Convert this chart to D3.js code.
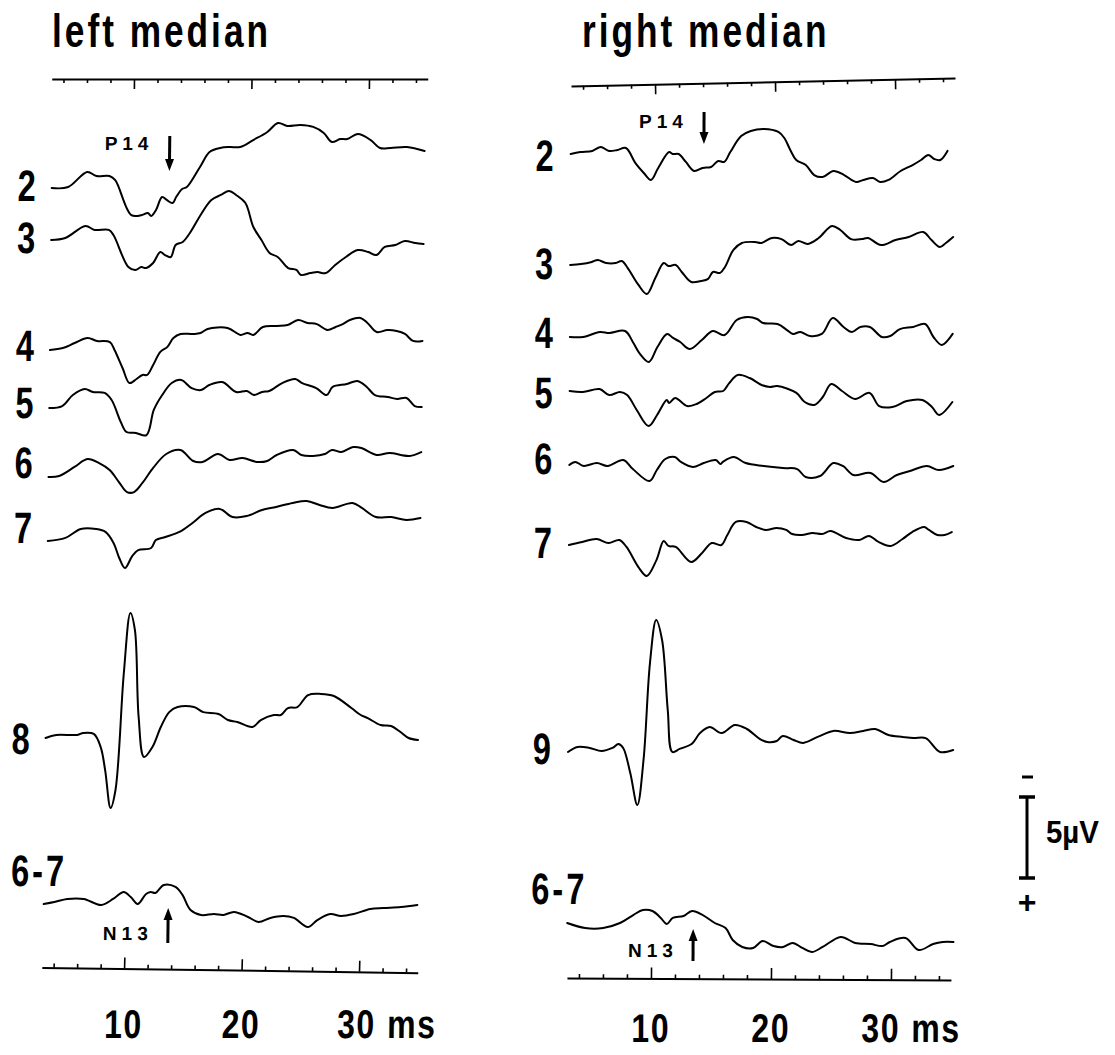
<!DOCTYPE html>
<html lang="en">
<head>
<meta charset="UTF-8">
<title>Median nerve SEP traces</title>
<style>
  body { margin: 0; background: #fff; }
  svg { display: block; }
  .lbl { font-family: "Liberation Sans", Arial, Helvetica, sans-serif; font-weight: bold; fill: #000; }
  .trace { fill: none; stroke: #000; stroke-width: 2; stroke-linejoin: round; stroke-linecap: round; }
</style>
</head>
<body>
<svg id="chart" width="1115" height="1055"></svg>
<script src="https://d3js.org/d3.v7.min.js"></script>
<script>
// time ticks (ms) and labelled ticks
const msTicks = d3.range(4, 35, 2);
const majorTicks = [10, 20, 30];
const tickLabels = ["10", "20", "30"];

// traces: [ms, µV]  (negative = up)
const left2 = [[3.1,0],[4.5,-0.06],[6.1,-0.99],[6.9,-0.74],[8.0,-0.74],[8.5,-0.49],[9.9,1.67],[10.8,1.67],[11.3,1.54],[11.6,1.73],[12.0,1.36],[12.5,0.56],[12.9,0.74],[13.4,0.93],[13.7,0.56],[14.2,0.06],[14.6,-0.06],[15.7,-1.30],[16.5,-2.22],[17.4,-2.47],[18.2,-2.53],[19.1,-2.53],[20.2,-2.96],[21.4,-3.46],[22.3,-4.01],[23.1,-3.83],[24.2,-3.89],[25.3,-3.77],[26.2,-3.40],[26.9,-2.84],[27.6,-3.02],[28.2,-3.02],[29.1,-3.33],[30.2,-2.96],[31.0,-2.47],[31.9,-2.47],[33.3,-2.53],[34.8,-2.28]];
const left3 = [[3.1,0],[4.3,-0.12],[6.0,-0.86],[6.8,-0.62],[8.0,-0.62],[8.4,-0.31],[9.7,1.67],[10.3,1.85],[10.8,1.67],[11.2,1.73],[11.8,1.42],[12.4,0.74],[12.8,0.93],[13.3,1.05],[13.7,0.31],[14.3,0.12],[14.9,-0.43],[15.9,-1.67],[16.7,-2.47],[17.5,-2.78],[18.2,-3.02],[18.8,-2.78],[19.6,-2.28],[20.3,-0.80],[21.0,0],[21.7,0.80],[22.4,1.05],[23.3,1.73],[24.0,1.85],[24.4,2.16],[25.2,2.04],[25.8,1.98],[26.5,2.04],[27.3,1.54],[28.2,1.05],[29.2,0.62],[30.1,0.74],[30.8,0.93],[31.5,0.43],[32.4,0.31],[33.2,0.06],[34.1,0.19],[34.8,0.25]];
const left4 = [[3.1,0],[4.2,-0.12],[5.2,-0.43],[6.3,-0.74],[7.1,-0.56],[8.2,-0.49],[8.6,0],[9.3,1.11],[9.9,2.04],[10.5,1.79],[11.0,1.54],[11.4,1.54],[11.9,0.93],[12.5,0.12],[13.1,-0.19],[13.6,-0.74],[14.2,-0.99],[15.3,-0.99],[15.9,-1.05],[16.5,-1.30],[18.2,-1.36],[19.3,-0.93],[19.9,-1.05],[20.4,-0.93],[21.2,-1.42],[22.4,-1.48],[23.3,-1.54],[24.2,-1.85],[25.0,-1.67],[25.8,-1.60],[26.7,-1.23],[27.4,-1.42],[28.0,-1.60],[28.6,-1.85],[29.5,-1.98],[30.1,-1.67],[30.9,-1.11],[31.8,-1.23],[32.6,-1.17],[33.3,-0.99],[34.0,-0.56],[34.8,-0.56]];
const left5 = [[3.1,0],[4.2,-0.12],[5.1,-0.80],[6.1,-1.17],[6.8,-0.99],[7.8,-0.93],[8.4,-0.49],[9.2,0.86],[9.7,1.48],[10.5,1.54],[11.4,1.67],[12.0,0.12],[12.7,-0.80],[13.5,-1.54],[14.3,-1.73],[15.2,-1.23],[16.0,-1.11],[16.7,-1.42],[17.8,-1.60],[19.0,-0.99],[19.9,-1.05],[20.5,-0.80],[21.2,-0.99],[21.8,-1.05],[22.9,-1.54],[24.0,-1.79],[24.6,-1.54],[25.8,-1.23],[26.7,-0.80],[27.2,-1.30],[28.4,-1.48],[29.3,-1.67],[30.1,-1.30],[30.8,-0.80],[31.9,-0.68],[32.7,-0.56],[33.5,-0.62],[34.2,-0.12],[34.8,-0.06]];
const left6 = [[3.1,0],[4.0,-0.06],[5.3,-0.62],[6.4,-1.11],[7.4,-0.86],[8.3,-0.43],[9.1,0.31],[9.8,0.93],[10.4,0.93],[11.1,0.37],[12.0,-0.56],[13.1,-1.42],[14.3,-1.67],[15.4,-0.99],[16.2,-0.93],[17.5,-1.42],[18.5,-1.05],[19.6,-1.17],[20.8,-0.93],[21.7,-0.99],[22.5,-1.36],[23.9,-1.67],[24.6,-1.36],[25.6,-1.30],[26.6,-1.42],[27.2,-1.67],[28.0,-1.54],[29.0,-1.85],[29.7,-1.79],[31.0,-1.36],[32.1,-1.48],[33.8,-1.30],[34.8,-1.54]];
const left7 = [[3.1,0],[4.6,-0.19],[5.9,-0.74],[7.2,-0.74],[8.0,-0.56],[8.7,0.12],[9.2,1.05],[9.7,1.67],[10.3,0.93],[10.8,0.56],[11.9,0.43],[12.3,-0.06],[13.1,-0.25],[14.3,-0.56],[15.4,-1.11],[16.5,-1.73],[17.7,-1.98],[18.8,-1.48],[20.0,-1.54],[21.3,-1.91],[22.5,-2.10],[23.9,-2.35],[25.1,-2.47],[26.2,-2.22],[27.3,-2.04],[29.0,-2.35],[29.8,-2.04],[31.0,-1.48],[32.3,-1.48],[33.6,-1.30],[34.8,-1.42]];
const left8 = [[3.1,0],[4.0,-0.19],[5.8,-0.19],[6.3,-0.31],[7.2,-0.25],[7.8,0.56],[8.2,1.98],[8.7,4.32],[9.1,3.21],[9.7,-4.01],[10.2,-7.72],[10.6,-6.67],[11.0,-1.30],[11.5,1.17],[12.2,0.56],[12.9,-0.68],[13.6,-1.60],[14.3,-1.91],[15.7,-1.91],[16.5,-1.60],[17.8,-1.48],[18.6,-1.11],[19.4,-0.99],[20.7,-0.68],[21.4,-1.11],[22.5,-1.42],[23.1,-1.42],[23.7,-1.85],[24.5,-1.91],[25.4,-2.65],[26.5,-2.72],[27.6,-2.59],[29.1,-1.85],[29.9,-1.42],[30.5,-1.23],[31.6,-0.80],[32.5,-0.74],[33.3,-0.37],[34.0,0],[34.8,0.12]];
const left67 = [[3.1,0],[4.0,-0.12],[5.1,-0.31],[6.5,-0.31],[8.0,0.06],[9.0,-0.31],[9.9,-0.74],[10.5,-0.43],[11.1,0],[11.8,-0.62],[12.2,-0.74],[12.6,-0.68],[13.3,-1.17],[14.3,-1.05],[14.9,-0.56],[15.6,0.37],[16.5,0.68],[17.6,0.62],[18.4,0.68],[19.3,0.49],[20.5,0.80],[21.4,1.11],[22.4,0.86],[23.5,0.74],[24.4,0.86],[25.6,1.42],[26.4,0.99],[27.5,0.62],[28.4,0.74],[29.5,0.62],[30.9,0.31],[32.0,0.25],[33.5,0.19],[34.9,0.06]];

const right2 = [[3.0,0],[3.8,-0.12],[4.8,-0.19],[5.5,-0.43],[6.2,-0.19],[6.9,-0.25],[7.6,-0.37],[8.4,0.56],[9.1,1.17],[9.7,1.60],[10.3,0.86],[11.2,-0.12],[11.5,0],[12.0,0],[12.6,0.49],[13.3,1.05],[14.0,0.86],[14.7,0.80],[15.3,0.43],[15.8,0.49],[16.3,-0.12],[17.2,-1.11],[18.0,-1.42],[19.1,-1.54],[20.3,-1.36],[20.8,-0.99],[21.3,-0.25],[21.8,0.37],[22.6,0.68],[23.3,1.30],[24.0,1.42],[24.9,1.05],[25.8,1.30],[26.8,1.73],[27.4,1.60],[28.2,1.48],[28.8,1.73],[29.5,1.60],[30.5,1.05],[31.5,0.68],[32.2,0.37],[32.8,0.06],[33.3,0.31],[33.8,0.37],[34.4,-0.19]];
const right3 = [[3.0,0],[3.9,-0.06],[4.8,-0.19],[5.3,-0.31],[6.0,-0.12],[6.8,-0.12],[7.3,-0.25],[7.8,0.19],[8.7,1.23],[9.4,1.79],[10.1,0.80],[10.8,-0.12],[11.2,0.06],[11.8,0],[12.3,0.43],[13.1,1.05],[13.9,0.99],[14.5,0.86],[14.9,0.43],[15.5,0.49],[15.9,0.12],[16.6,-0.93],[17.3,-1.36],[18.4,-1.42],[18.9,-1.36],[19.8,-1.67],[20.6,-1.60],[21.4,-1.23],[22.0,-1.48],[22.8,-1.30],[23.7,-1.67],[24.8,-2.41],[25.5,-2.16],[26.4,-1.60],[27.3,-1.60],[27.8,-1.67],[28.9,-1.23],[30.1,-1.54],[31.2,-1.73],[32.4,-2.04],[33.1,-1.54],[33.8,-1.11],[34.3,-1.36],[34.9,-1.73]];
const right4 = [[3.0,0],[4.1,0],[5.5,-0.31],[6.3,-0.25],[7.6,-0.37],[8.3,0.37],[8.8,0.99],[9.6,1.54],[10.3,0.62],[11.1,-0.19],[11.6,0.06],[12.2,0.31],[13.0,0.74],[14.0,0.19],[14.9,-0.37],[15.9,-0.12],[16.9,-1.05],[17.8,-1.23],[18.6,-1.11],[19.1,-0.86],[20.3,-0.80],[21.1,-0.43],[21.6,-0.19],[22.2,-0.31],[23.0,-0.06],[24.0,-0.19],[24.9,-1.17],[25.8,-0.62],[26.5,-0.31],[27.2,-0.62],[28.0,-0.62],[29.0,0],[29.7,-0.06],[30.5,-0.49],[31.6,-0.62],[32.6,-0.80],[33.3,0],[34.0,0.49],[34.9,-0.19]];
const right5 = [[3.0,0],[4.1,0.06],[5.5,-0.12],[6.3,0.25],[7.2,0.06],[7.8,0.25],[8.6,1.17],[9.6,2.16],[10.3,1.48],[11.1,0.56],[11.3,0.74],[11.8,0.43],[12.8,0.93],[13.6,0.80],[14.4,0.43],[15.1,0.06],[15.8,0],[16.3,-0.49],[17.0,-0.99],[18.0,-0.80],[19.0,-0.37],[19.7,-0.25],[20.3,-0.31],[21.9,0.12],[22.6,0.68],[23.4,0.86],[24.1,0.37],[24.8,-0.43],[25.7,0],[26.8,0.49],[28.0,0.12],[28.8,0.93],[29.9,0.99],[31.1,0.62],[32.4,0.56],[33.2,0.99],[33.8,1.48],[34.9,0.68]];
const right6 = [[3.0,0],[3.5,-0.19],[4.2,0.06],[5.3,-0.12],[6.2,0.06],[7.5,-0.31],[8.3,0.25],[9.7,0.99],[10.3,0.31],[11.0,-0.37],[11.8,-0.49],[12.3,-0.19],[13.3,0.12],[14.2,-0.12],[15.2,-0.31],[15.6,-0.06],[15.8,-0.19],[16.7,-0.49],[17.7,-0.12],[19.2,0.06],[20.8,0.19],[22.0,0.25],[22.7,0.74],[23.9,0.68],[25.0,-0.12],[25.8,0.06],[26.7,0.62],[28.1,0.49],[29.2,1.05],[30.3,0.62],[31.4,0.37],[32.8,0.06],[33.8,0.31],[35.0,0.06]];
const right7 = [[3.0,0],[4.1,-0.19],[5.3,-0.37],[6.3,-0.12],[7.2,-0.31],[7.8,0.12],[8.8,1.36],[9.5,1.91],[10.3,0.93],[10.9,-0.25],[11.3,0.06],[11.9,0.12],[13.2,1.05],[14.1,0.49],[14.9,-0.12],[15.7,0],[16.2,-0.62],[16.9,-1.42],[17.8,-1.42],[18.6,-1.11],[19.4,-0.93],[20.3,-1.05],[21.1,-0.93],[21.6,-0.68],[22.4,-0.62],[23.3,-0.74],[24.1,-0.68],[24.8,-0.86],[26.1,-0.43],[27.2,-0.31],[28.0,-0.56],[28.8,-0.19],[29.8,0.06],[30.8,-0.37],[31.6,-0.80],[32.6,-1.11],[33.0,-0.93],[33.7,-0.62],[34.3,-0.62],[34.9,-0.80]];
const right9 = [[3.0,0],[3.8,-0.31],[4.8,-0.25],[5.8,-0.06],[6.7,-0.25],[7.2,-0.49],[7.6,-0.25],[8.2,1.30],[8.8,3.27],[9.3,0.49],[9.8,-5.49],[10.3,-8.15],[10.8,-6.91],[11.3,-2.59],[11.7,0],[12.3,-0.19],[13.3,-0.49],[14.0,-1.17],[14.8,-1.54],[15.8,-1.17],[16.9,-1.67],[17.9,-1.42],[19.0,-0.80],[19.6,-0.62],[20.4,-0.68],[20.9,-0.99],[21.8,-0.74],[22.6,-0.56],[23.8,-0.93],[25.1,-1.30],[26.5,-1.17],[27.6,-1.30],[28.6,-1.42],[29.7,-1.05],[30.9,-0.93],[31.8,-0.86],[32.8,-0.86],[34.0,0],[35.1,-0.12]];
const right67 = [[3.0,0],[4.5,0.31],[6.0,0.31],[7.4,0],[8.5,-0.49],[9.3,-0.80],[10.1,-0.74],[10.8,-0.31],[11.3,0.06],[11.8,-0.31],[12.7,-0.43],[13.4,-0.74],[14.3,-0.49],[15.3,0],[16.2,0.31],[16.8,1.05],[17.6,1.48],[18.5,1.54],[19.3,1.11],[20.2,1.42],[21.0,1.48],[21.8,1.23],[22.6,1.54],[23.4,1.79],[24.3,1.48],[25.8,0.86],[27.0,1.23],[28.3,1.30],[29.3,1.42],[29.9,1.17],[31.2,0.93],[32.3,1.67],[33.5,1.30],[34.3,1.17],[35.2,1.17]];

const svg = d3.select("#chart");
const uvPx = 81 / 5; // 5 µV calibration bar height in px

// bold, horizontally condensed text (the figure uses a narrow grotesque)
function addText(parent, x, y, str, size, opts = {}) {
  const sx = opts.sx ?? 0.75;
  return parent.append("text").attr("class", "lbl")
    .attr("transform", `translate(${x},${y}) scale(${sx},1)`)
    .attr("font-size", size)
    .attr("letter-spacing", opts.ls ?? 0)
    .attr("text-anchor", opts.anchor ?? "start")
    .text(str);
}

const panels = [
  {
    title: "left median", titleX: 52,
    x: d3.scaleLinear().domain([3, 35]).range([134 - 7 * 11.75, 134 + 25 * 11.75]),
    skew: -0.64, skewY: 79,
    topY: 79, topTilt: 0, botY: 970, botTilt: 0.8, tickLabelY: 1038,
    labelX: 28, multiX: 20, lastDx: -2,
    traces: [
      { name: "2", data: left2, base: 188, ly: 201 },
      { name: "3", data: left3, base: 240, ly: 253 },
      { name: "4", data: left4, base: 350, ly: 361 },
      { name: "5", data: left5, base: 408, ly: 418 },
      { name: "6", data: left6, base: 477, ly: 478 },
      { name: "7", data: left7, base: 541, ly: 543 },
      { name: "8", data: left8, base: 738, ly: 754 },
      { name: "6-7", data: left67, base: 904, ly: 886, multi: true }
    ],
    p14: { t: 13.1, y: 150, top: 136, tip: 171 },
    n13: { t: 13.7, y: 940, top: 908, tail: 943 }
  },
  {
    title: "right median", titleX: 582,
    x: d3.scaleLinear().domain([3, 35]).range([655 - 7 * 12, 655 + 25 * 12]),
    skew: -0.26, skewY: 83,
    topY: 82, topTilt: -1.2, botY: 979, botTilt: 0.3, tickLabelY: 1042,
    labelX: 545, multiX: 535, lastDx: -10,
    traces: [
      { name: "2", data: right2, base: 154, ly: 171 },
      { name: "3", data: right3, base: 265, ly: 279 },
      { name: "4", data: right4, base: 337, ly: 348 },
      { name: "5", data: right5, base: 391, ly: 408 },
      { name: "6", data: right6, base: 465, ly: 474 },
      { name: "7", data: right7, base: 545, ly: 558 },
      { name: "9", data: right9, base: 752, ly: 764 },
      { name: "6-7", data: right67, base: 923, ly: 904, multi: true }
    ],
    p14: { t: 14.1, y: 128, top: 112, tip: 144 },
    n13: { t: 13.5, y: 957, top: 929, tail: 961 }
  }
];

panels.forEach(p => {
  addText(svg, p.titleX, 47, p.title, 47, { sx: 0.75, ls: 4 });

  const g = svg.append("g")
    .attr("transform", `translate(0,${p.skewY}) skewX(${p.skew}) translate(0,${-p.skewY})`);
  const x = p.x;
  const [x0, x1] = x.range();
  const cx = (x0 + x1) / 2;

  // top time axis, ticks pointing down
  const top = g.append("g")
    .attr("transform", `translate(0,${p.topY}) rotate(${p.topTilt},${cx},0)`)
    .call(d3.axisBottom(x).tickValues(msTicks).tickSize(4).tickSizeOuter(0).tickFormat(""));
  // bottom time axis, ticks pointing up
  const bot = g.append("g")
    .attr("transform", `translate(0,${p.botY}) rotate(${p.botTilt},${cx},0)`)
    .call(d3.axisTop(x).tickValues(msTicks).tickSize(4).tickSizeOuter(0).tickFormat(""));
  [top, bot].forEach((a, i) => {
    a.select(".domain").attr("stroke-width", 2);
    a.selectAll(".tick line").attr("stroke-width", 1.6)
      .filter(d => majorTicks.includes(d)).attr("y2", i === 0 ? 10 : -11);
  });

  // tick labels under the bottom axis; the last one carries the unit
  majorTicks.forEach((t, i) => {
    const last = i === majorTicks.length - 1;
    if (!last) {
      addText(g, x(t), p.tickLabelY, tickLabels[i], 40, { sx: 0.8, ls: 2, anchor: "middle" });
      return;
    }
    const tx = addText(g, x(t) + p.lastDx, p.tickLabelY, "", 40, { sx: 0.8, ls: 2 });
    const num = tx.append("tspan").text(tickLabels[i]);
    const w = num.node().getComputedTextLength();
    tx.select("tspan").attr("x", -w / 2);
    tx.append("tspan").attr("dx", 14).text("ms");
  });

  // traces
  p.traces.forEach(tr => {
    const y = d3.scaleLinear().domain([0, 5]).range([tr.base, tr.base + 5 * uvPx]);
    const line = d3.line()
      .x(d => x(d[0])).y(d => y(d[1]))
      .curve(d3.curveCatmullRom.alpha(0.5));
    g.append("path").attr("class", "trace").attr("d", line(tr.data));
    addText(g, tr.multi ? p.multiX : p.labelX, tr.ly, tr.name, 44,
      { sx: 0.74, ls: tr.multi ? 4 : 0, anchor: tr.multi ? "start" : "middle" });
  });

  // P14 (down arrow) and N13 (up arrow) markers
  const arrow = (ax, yTail, yTip) => {
    const dir = yTip > yTail ? 1 : -1;
    g.append("line").attr("x1", ax).attr("x2", ax)
      .attr("y1", yTail).attr("y2", yTip - dir * 8)
      .attr("stroke", "#000").attr("stroke-width", 3);
    g.append("path")
      .attr("d", `M${ax - 4.5},${yTip - dir * 12} L${ax + 4.5},${yTip - dir * 12} L${ax},${yTip} Z`)
      .attr("fill", "#000");
  };
  const px = x(p.p14.t);
  arrow(px, p.p14.top, p.p14.tip);
  addText(g, px - 65, p.p14.y, "P14", 19, { sx: 1, ls: 5 });
  const nx = x(p.n13.t);
  arrow(nx, p.n13.tail, p.n13.top);
  addText(g, nx - 65, p.n13.y, "N13", 19, { sx: 1, ls: 5 });
});

// 5 µV calibration bar (negative up)
const cal = svg.append("g");
const calY = d3.scaleLinear().domain([0, 5]).range([797, 797 + 5 * uvPx]);
cal.append("line").attr("x1", 1027).attr("x2", 1027)
  .attr("y1", calY(0)).attr("y2", calY(5)).attr("stroke", "#000").attr("stroke-width", 3);
[0, 5].forEach(v => cal.append("line")
  .attr("x1", 1019).attr("x2", 1035).attr("y1", calY(v)).attr("y2", calY(v))
  .attr("stroke", "#000").attr("stroke-width", 3.5));
cal.append("line").attr("x1", 1022).attr("x2", 1033).attr("y1", 777).attr("y2", 777)
  .attr("stroke", "#000").attr("stroke-width", 3);
addText(cal, 1027, 913, "+", 32, { sx: 1, anchor: "middle" });
addText(cal, 1046, 843, "5\u00b5V", 32, { sx: 0.92 });
</script>
</body>
</html>
